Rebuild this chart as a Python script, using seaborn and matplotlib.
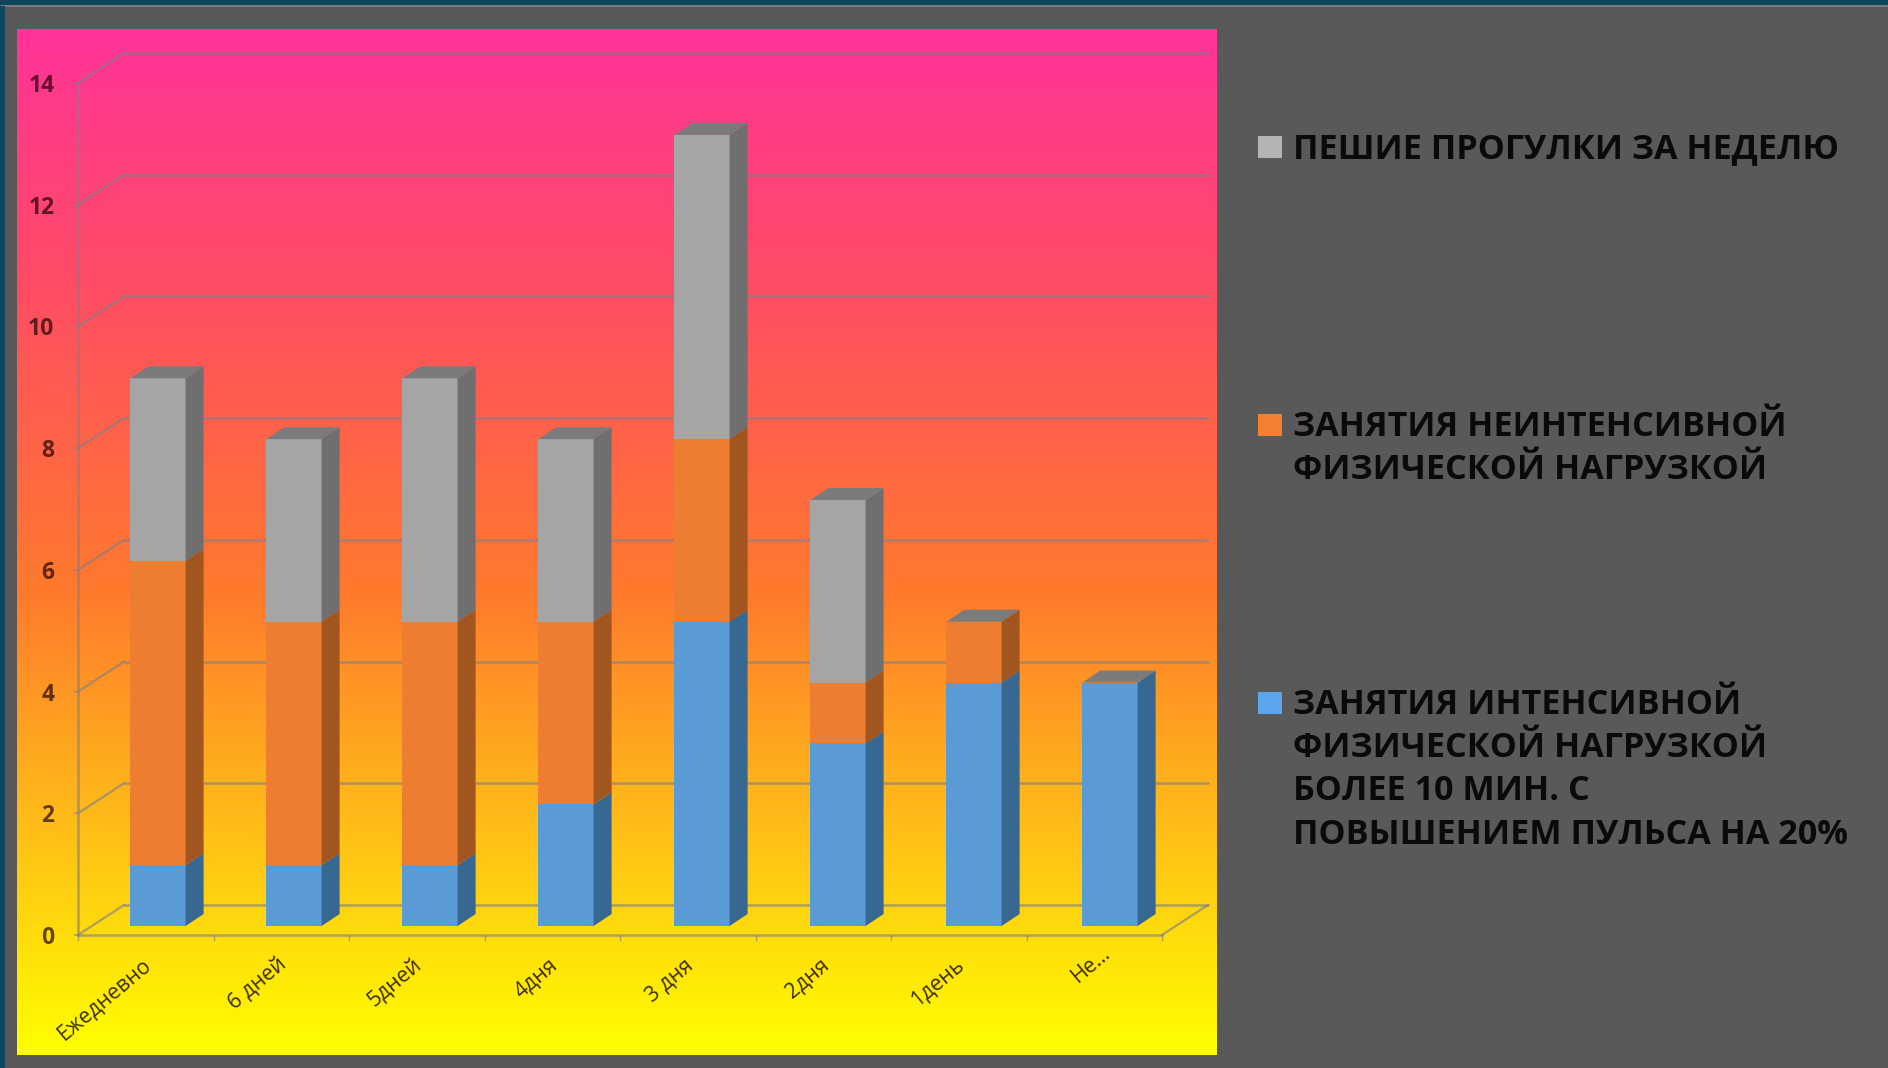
import numpy as np
import pandas as pd
import seaborn as sns
import matplotlib
matplotlib.use("Agg")
import matplotlib.pyplot as plt
from matplotlib.colors import LinearSegmentedColormap
from matplotlib.patches import Polygon, Rectangle
from matplotlib.transforms import Affine2D, IdentityTransform

# Chart data
days = ["Ежедневно", "6 дней", "5дней", "4дня", "3 дня", "2дня", "1день", "Не…"]
intensive = [1, 1, 1, 2, 5, 3, 4, 4]
moderate = [5, 4, 4, 3, 3, 1, 1, 0]
walking = [3, 3, 4, 3, 5, 3, 0, 0]
legend_labels = [
    "ПЕШИЕ ПРОГУЛКИ ЗА НЕДЕЛЮ",
    "ЗАНЯТИЯ НЕИНТЕНСИВНОЙ\nФИЗИЧЕСКОЙ НАГРУЗКОЙ",
    "ЗАНЯТИЯ ИНТЕНСИВНОЙ\nФИЗИЧЕСКОЙ НАГРУЗКОЙ\nБОЛЕЕ 10 МИН. С\nПОВЫШЕНИЕМ ПУЛЬСА НА 20%",
]
y_ticks = [0, 2, 4, 6, 8, 10, 12, 14]

# Colours
front_colors = ["#5b9bd5", "#ed7d31", "#a5a5a5"]
side_colors = ["#376891", "#a1551f", "#6f6f6f"]
top_color = "#7b7b7b"
legend_colors = ["#b4b4b4", "#f2812f", "#5ba6ec"]
grid_color = (0.50, 0.50, 0.52, 0.62)
sheet_color = "#595959"
border_color = "#0f465f"
gradient_stops = [
    (0.00, "#ff3399"), (0.24, "#ff4b66"), (0.55, "#ff7a2d"),
    (0.71, "#ffaa1e"), (0.77, "#ffbb19"), (0.95, "#fff005"), (1.00, "#ffff00"),
]

W, H = 1888, 1068
sns.set_theme(style="white")
plt.rcParams["font.family"] = ["Open Sans", "DejaVu Sans"]

fig = plt.figure(figsize=(W / 100, H / 100), dpi=100, facecolor=sheet_color)


def px_box(x0, y0, x1, y1):
    """Axes rectangle from pixel edges measured from the top-left corner."""
    return [x0 / W, 1 - y1 / H, (x1 - x0) / W, (y1 - y0) / H]


# Slide border along the top and left edges
fig.add_artist(Rectangle((0, 1 - 6 / H), 1, 6 / H, transform=fig.transFigure, color=border_color, lw=0))
fig.add_artist(Rectangle((0, 1 - 7 / H), 1, 1.5 / H, transform=fig.transFigure, color="#7a7a7a", lw=0))
fig.add_artist(Rectangle((0, 0), 5 / W, 1 - 6 / H, transform=fig.transFigure, color=border_color, lw=0))

# Gradient plot background
bg = fig.add_axes(px_box(17, 29, 1217, 1055))
bg.axis("off")
cmap = LinearSegmentedColormap.from_list("panel", gradient_stops, N=512)
bg.imshow(np.linspace(0, 1, 512)[:, None], cmap=cmap, aspect="auto", vmin=0, vmax=1)

# Front plane of the 3D box
AXIS_LEFT = 78
ax = fig.add_axes(px_box(AXIS_LEFT, 83, 1162, 935))
ax.patch.set_alpha(0)

table = pd.DataFrame({"day": days, "intensive": intensive, "moderate": moderate, "walking": walking})
bottom = np.zeros(len(days))
series = ["intensive", "moderate", "walking"]
series_patches = []
for name, colour in zip(series, front_colors):
    before = len(ax.patches)
    sns.barplot(data=table, x="day", y=name, order=days, color=colour, saturation=1,
                width=0.406, bottom=bottom, ax=ax, errorbar=None, zorder=3)
    series_patches.append(ax.patches[before:])
    bottom = bottom + table[name].to_numpy()

ax.set_xlim(-0.5, len(days) - 0.5)
ax.set_ylim(0, 14)
ax.set_xlabel("")
ax.set_ylabel("")
fig.canvas.draw()

# The back wall sits up and to the right; the bars stand midway across the floor
wall = ax.transData + Affine2D().translate(46, 30)
bar_plane = ax.transData + Affine2D().translate(-AXIS_LEFT, 0).scale(136 / 135.5, 1).translate(AXIS_LEFT + 12, 9)
depth = np.array([18, 12])

# Back wall gridlines and their diagonals on the side wall
x_lo, x_hi = ax.get_xlim()
for v in y_ticks:
    ax.plot([x_lo, x_hi], [v, v], transform=wall, color=grid_color, lw=1.9, clip_on=False, zorder=1)
    a = ax.transData.transform((x_lo, v))
    b = wall.transform((x_lo, v))
    ax.plot([a[0], b[0]], [a[1], b[1]], transform=IdentityTransform(), color=grid_color, lw=1.7,
            clip_on=False, zorder=1)
a = ax.transData.transform((x_hi, 0))
b = wall.transform((x_hi, 0))
ax.plot([a[0], b[0]], [a[1], b[1]], transform=IdentityTransform(), color=grid_color, lw=1.7,
        clip_on=False, zorder=1)

# Extruded faces for every stacked segment
heights = np.zeros(len(days))
for patches, front, side in zip(series_patches, front_colors, side_colors):
    for i, p in enumerate(patches):
        p.set_transform(bar_plane)
        p.set_linewidth(0)
        p.set_clip_on(False)
        h = p.get_height()
        if not h:
            continue
        x0, y0 = p.get_x(), p.get_y()
        x1, y1 = x0 + p.get_width(), y0 + h
        c = bar_plane.transform([(x1, y0), (x1, y1)])
        ax.add_patch(Polygon([c[0], c[1], c[1] + depth, c[0] + depth], closed=True,
                             transform=IdentityTransform(), facecolor=side, lw=0, zorder=3, clip_on=False))
        heights[i] = max(heights[i], y1)

for i, p in enumerate(series_patches[0]):
    x0 = p.get_x()
    x1 = x0 + p.get_width()
    c = bar_plane.transform([(x0, heights[i]), (x1, heights[i])])
    ax.add_patch(Polygon([c[0], c[1], c[1] + depth, c[0] + depth], closed=True,
                         transform=IdentityTransform(), facecolor=top_color, lw=0, zorder=3, clip_on=False))

# Axes and tick labels
sns.despine(ax=ax, top=True, right=True)
for side_name in ("left", "bottom"):
    ax.spines[side_name].set_color(grid_color)
    ax.spines[side_name].set_linewidth(1.9)
    ax.spines[side_name].set_zorder(2)

ax.set_yticks(y_ticks)
ax.set_yticklabels([str(v) for v in y_ticks], fontsize=16.5, fontweight="bold", color=(0.1, 0, 0, 0.68))
ax.tick_params(axis="y", left=True, length=3, width=1.2, color=grid_color, pad=14)

ax.set_xticks(np.arange(len(days)))
ax.set_xticklabels(days, rotation=40, ha="right", va="top", rotation_mode="anchor",
                   fontsize=15.3, color=(0.1, 0.05, 0, 0.85))
ax.tick_params(axis="x", bottom=False, pad=8)
ax.set_xticks(np.arange(len(days) + 1) - 0.5, minor=True)
ax.tick_params(axis="x", which="minor", bottom=True, length=4, width=1, color=grid_color)
# Slide the slanted labels left; the truncated last one sits further right and higher
labels = ax.get_xticklabels()
for label in labels[:-1]:
    label.set_transform(label.get_transform() + Affine2D().translate(-4, 0))
labels[-1].set_transform(labels[-1].get_transform() + Affine2D().translate(7, 12))

# Legend entries, one swatch beside the first line of each block
entry_mids = [147, 425, 703]
for text, colour, y_mid in zip(legend_labels, legend_colors, entry_mids):
    fig.add_artist(Rectangle((1258 / W, 1 - (y_mid + 11) / H), 24 / W, 22 / H,
                             transform=fig.transFigure, color=colour, lw=0))
    fig.text(1293 / W, 1 - (y_mid - 15) / H, text, fontsize=24.6, fontweight="bold", color="#0a0a0a",
             va="top", ha="left", linespacing=1.355)

fig.savefig("out.png", dpi=100, facecolor=sheet_color)
